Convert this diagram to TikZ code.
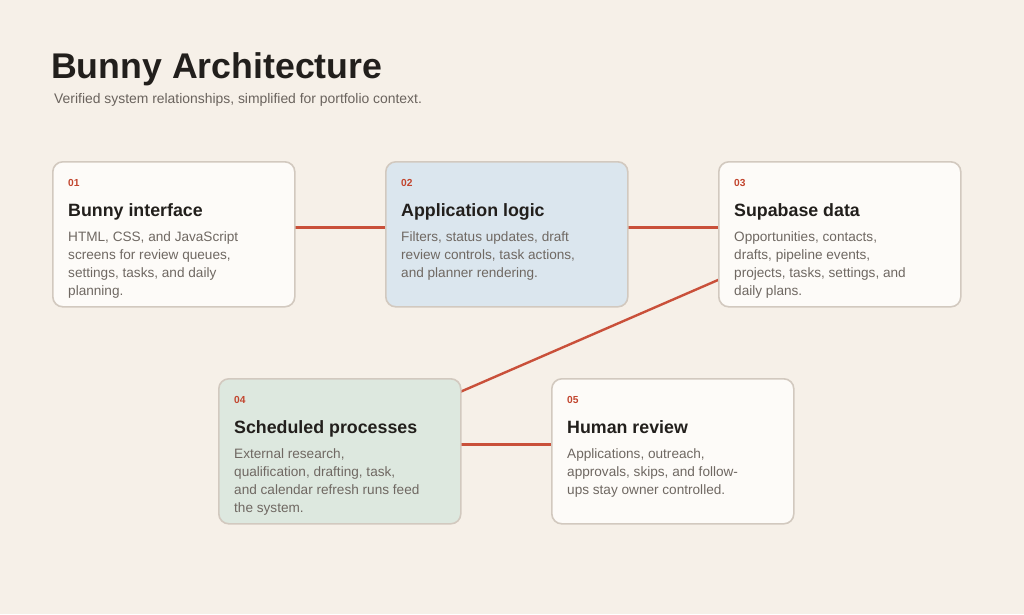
\documentclass[tikz,border=0pt]{standalone}
\usepackage{fontspec}
\setmainfont{Liberation Sans}
\definecolor{bgc}{HTML}{F6F0E8}
\definecolor{boxborder}{HTML}{D2C9BF}
\definecolor{boxfill}{HTML}{FDFBF8}
\definecolor{bluefill}{HTML}{DBE6EE}
\definecolor{greenfill}{HTML}{DDE8DF}
\definecolor{linkred}{HTML}{C9503A}
\definecolor{numred}{HTML}{C2452E}
\definecolor{ink}{HTML}{221F1C}
\definecolor{descgray}{HTML}{6F6862}
\definecolor{subgray}{HTML}{6A635D}
\tikzset{
  card/.style={draw=boxborder, line width=1.6pt, rounded corners=10pt, minimum width=242pt, minimum height=145pt, inner sep=0pt, anchor=north west},
  link/.style={draw=linkred, line width=2.4pt},
  numtext/.style={anchor=base west, inner sep=0pt, text=numred, font=\bfseries\fontsize{10.2}{12}\selectfont},
  titletext/.style={anchor=base west, inner sep=0pt, text=ink, font=\bfseries\fontsize{17.8}{20}\selectfont},
  desctext/.style={anchor=base west, inner sep=0pt, text=descgray, font=\fontsize{13.6}{18.2}\selectfont},
}
\newcommand{\desclines}[1]{\parbox[t]{240pt}{\raggedright\fontsize{13.6}{18.2}\selectfont #1}}
\begin{document}
\begin{tikzpicture}[x=1pt,y=-1pt]
\fill[bgc] (0,0) rectangle (1024,614);
\useasboundingbox (0,0) rectangle (1024,614);

% title
\node[anchor=base west, inner sep=0pt, text=ink, font=\bfseries\fontsize{35.7}{40}\selectfont] (title) at (51,78) {Bunny Architecture};
\node[anchor=base west, inner sep=0pt, text=subgray, font=\fontsize{13.9}{16}\selectfont] (subtitle) at (54,103) {Verified system relationships, simplified for portfolio context.};

% connector anchor coordinates (drawn first, under the cards)
\coordinate (c1) at (173,227.5);
\coordinate (c2) at (506,227.5);
\coordinate (c3) at (839,227.5);
\coordinate (c4) at (339,444.5);
\coordinate (c5) at (672,444.5);
\draw[link] (c1) -- (c2);
\draw[link] (c2) -- (c3);
\draw[link] (c3) -- (c4);
\draw[link] (c4) -- (c5);

% cards
\node[card, fill=boxfill] (b1) at (52,161) {};
\node[card, fill=bluefill] (b2) at (385,161) {};
\node[card, fill=boxfill] (b3) at (718,161) {};
\node[card, fill=greenfill] (b4) at (218,378) {};
\node[card, fill=boxfill] (b5) at (551,378) {};

% card 1
\node[numtext] (n1) at (68,186) {01};
\node[titletext] (t1) at (68,216) {Bunny interface};
\node[desctext] (d1) at (68,241) {\desclines{HTML, CSS, and JavaScript\\screens for review queues,\\settings, tasks, and daily\\planning.}};

% card 2
\node[numtext] (n2) at (401,186) {02};
\node[titletext] (t2) at (401,216) {Application logic};
\node[desctext] (d2) at (401,241) {\desclines{Filters, status updates, draft\\review controls, task actions,\\and planner rendering.}};

% card 3
\node[numtext] (n3) at (734,186) {03};
\node[titletext] (t3) at (734,216) {Supabase data};
\node[desctext] (d3) at (734,241) {\desclines{Opportunities, contacts,\\drafts, pipeline events,\\projects, tasks, settings, and\\daily plans.}};

% card 4
\node[numtext] (n4) at (234,403) {04};
\node[titletext] (t4) at (234,433) {Scheduled processes};
\node[desctext] (d4) at (234,458) {\desclines{External research,\\qualification, drafting, task,\\and calendar refresh runs feed\\the system.}};

% card 5
\node[numtext] (n5) at (567,403) {05};
\node[titletext] (t5) at (567,433) {Human review};
\node[desctext] (d5) at (567,458) {\desclines{Applications, outreach,\\approvals, skips, and follow-\\ups stay owner controlled.}};
\end{tikzpicture}
\end{document}
